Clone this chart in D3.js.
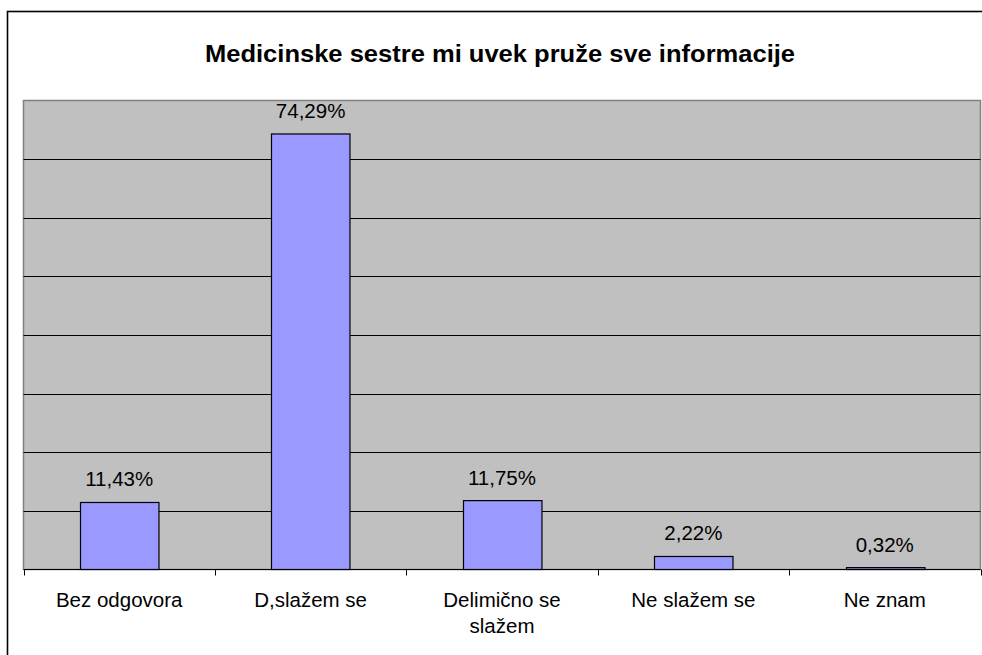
<!DOCTYPE html>
<html>
<head>
<meta charset="utf-8">
<script src="https://cdn.jsdelivr.net/npm/d3@7"></script>
<style>
  body { margin: 0; background: #fff; }
  svg { display: block; font-family: Arial, "Liberation Sans", sans-serif; }
</style>
</head>
<body>
<div id="chart"></div>
<script>
// data
const categories = ['Bez odgovora', 'D,slažem se', 'Delimično se slažem', 'Ne slažem se', 'Ne znam'];
const values = [11.43, 74.29, 11.75, 2.22, 0.32];
const yTicks = [0, 10, 20, 30, 40, 50, 60, 70, 80];
const title = 'Medicinske sestre mi uvek pruže sve informacije';

const W = 982, H = 655;
const plot = { left: 23.5, right: 980.5, top: 100.5, bottom: 569.5 };

const svg = d3.select('#chart').append('svg')
    .attr('width', W)
    .attr('height', H);

// outer frame
svg.append('rect')
    .attr('x', 7.5).attr('y', 11.5)
    .attr('width', 1000).attr('height', 700)
    .attr('fill', '#fff')
    .attr('stroke', '#000')
    .attr('stroke-width', 1.6);

svg.append('text')
    .attr('x', 500).attr('y', 62)
    .attr('text-anchor', 'middle')
    .attr('textLength', 590)
    .attr('lengthAdjust', 'spacingAndGlyphs')
    .style('font-size', '23.5px')
    .style('font-weight', 'bold')
    .text(title);

const x = d3.scaleBand()
    .domain(categories)
    .range([plot.left, plot.right])
    .paddingInner(0.59)
    .paddingOuter(0.295);

const y = d3.scaleLinear()
    .domain([0, 80])
    .range([plot.bottom, plot.top]);

// plot background
svg.append('rect')
    .attr('x', plot.left).attr('y', plot.top)
    .attr('width', plot.right - plot.left)
    .attr('height', plot.bottom - plot.top)
    .attr('fill', '#c0c0c0')
    .attr('stroke', '#808080')
    .attr('stroke-width', 1.5);

// gridlines
svg.selectAll('.grid')
    .data(yTicks.slice(1, -1))
    .enter()
    .append('line')
    .attr('class', 'grid')
    .attr('x1', plot.left).attr('x2', plot.right)
    .attr('y1', d => Math.round(y(d)) + 0.5)
    .attr('y2', d => Math.round(y(d)) + 0.5)
    .attr('stroke', '#000')
    .attr('stroke-width', 1.2);

// bars
svg.selectAll('.bar')
    .data(values)
    .enter()
    .append('rect')
    .attr('class', 'bar')
    .attr('x', (d, i) => Math.round(x(categories[i])) + 0.5)
    .attr('y', d => y(d))
    .attr('width', x.bandwidth())
    .attr('height', d => plot.bottom - y(d))
    .attr('fill', '#9999ff')
    .attr('stroke', '#000')
    .attr('stroke-width', 1.2);

// value labels
const fmt = v => d3.format('.2f')(v).replace('.', ',') + '%';
svg.selectAll('.val')
    .data(values)
    .enter()
    .append('text')
    .attr('class', 'val')
    .attr('x', (d, i) => x(categories[i]) + x.bandwidth() / 2)
    .attr('y', d => y(d) - 16)
    .attr('text-anchor', 'middle')
    .style('font-size', '20.5px')
    .text(fmt);

// x axis
const step = x.step();
const axis = svg.append('g');
axis.append('line')
    .attr('x1', plot.left).attr('x2', plot.right)
    .attr('y1', plot.bottom).attr('y2', plot.bottom)
    .attr('stroke', '#000')
    .attr('stroke-width', 1.2);
axis.selectAll('.tick')
    .data(d3.range(categories.length + 1))
    .enter()
    .append('line')
    .attr('x1', i => Math.round(plot.left + i * step) + 0.5)
    .attr('x2', i => Math.round(plot.left + i * step) + 0.5)
    .attr('y1', plot.bottom).attr('y2', plot.bottom + 6)
    .attr('stroke', '#000');

// category labels, wrapped
svg.selectAll('.cat')
    .data(categories)
    .enter()
    .append('text')
    .attr('class', 'cat')
    .attr('text-anchor', 'middle')
    .style('font-size', '20.5px')
    .each(function(d) {
        const t = d3.select(this);
        const cx = x(d) + x.bandwidth() / 2;
        const lines = d.length > 14 ? ['Delimično se', 'slažem'] : [d];
        lines.forEach((ln, k) => {
            t.append('tspan')
                .attr('x', cx)
                .attr('y', 607 + k * 26)
                .text(ln);
        });
    });
</script>
</body>
</html>
